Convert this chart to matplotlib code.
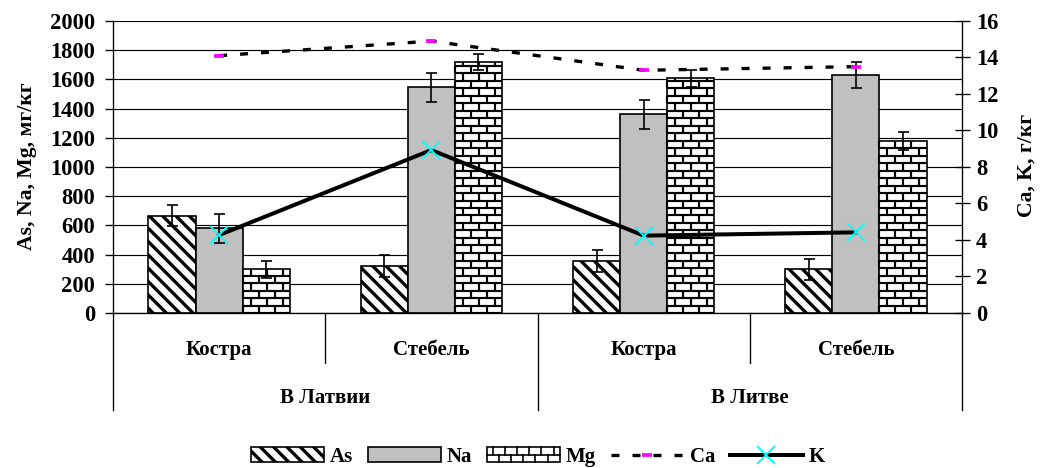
import matplotlib
matplotlib.use("Agg")
import matplotlib.pyplot as plt
import numpy as np
from matplotlib.patches import Rectangle
from matplotlib.lines import Line2D
from matplotlib.collections import LineCollection
from matplotlib.transforms import IdentityTransform, blended_transform_factory
from matplotlib.legend_handler import HandlerBase

plt.rcParams['font.family'] = ['Liberation Serif', 'DejaVu Serif']
plt.rcParams['font.weight'] = 'bold'
plt.rcParams['hatch.linewidth'] = 2.0

# data
sub_labels = ['Костра', 'Стебель', 'Костра', 'Стебель']
group_labels = ['В Латвии', 'В Литве']
as_vals = [665, 322, 357, 298]
as_err = [72, 75, 74, 72]
na_vals = [580, 1546, 1361, 1632]
na_err = [98, 100, 100, 90]
mg_vals = [298, 1720, 1607, 1178]
mg_err = [58, 55, 56, 62]
ca_vals = [14.1, 14.9, 13.3, 13.5]
k_vals = [4.27, 8.93, 4.24, 4.42]

DPI = 120
BS = chr(92)  # backslash for hatch
fig = plt.figure(figsize=(1040 / DPI, 468 / DPI), dpi=DPI)
ax = fig.add_axes([113 / 1040, 1 - 313 / 468, 849 / 1040, 292 / 468])
ax2 = ax.twinx()

x = np.arange(len(sub_labels))
w = 0.222
ekw = dict(ecolor='black', elinewidth=1.0, capsize=3.3, capthick=1.0)

b_as = ax.bar(x - w, as_vals, w, yerr=as_err, color='white', edgecolor='black',
              linewidth=1.0, hatch=BS * 3, error_kw=ekw, zorder=2)
b_na = ax.bar(x, na_vals, w, yerr=na_err, color='#c0c0c0', edgecolor='black',
              linewidth=1.0, error_kw=ekw, zorder=2)
b_mg = ax.bar(x + w, mg_vals, w, yerr=mg_err, color='white', edgecolor='black',
              linewidth=1.0, error_kw=ekw, zorder=2)

ax.set_xlim(-0.5, len(sub_labels) - 0.5)
ax.set_ylim(0, 2000)
ax.set_yticks(np.arange(0, 2001, 200))
ax.yaxis.grid(True, color='black', linewidth=0.7)
ax.set_axisbelow(True)
ax.set_xticks([])
ax.tick_params(axis='y', direction='out', length=4.8, width=0.8, labelsize=13.5, pad=6)
ax.spines['top'].set_visible(False)
ax.spines['right'].set_visible(False)
ax.set_ylabel('As, Na, Mg, мг/кг', fontsize=13, fontweight='bold')
ax.yaxis.set_label_coords(-0.0895, 0.503)

# brick texture for Mg bars
row_h, brick_w = 7.5, 16.0
for bar in b_mg:
    (x0, y0), (x1, y1) = ax.transData.transform([(bar.get_x(), 0),
                                                  (bar.get_x() + bar.get_width(), bar.get_height())])
    segs = []
    yy = y0
    row = 0
    while yy < y1:
        segs.append([(x0, yy), (x1, yy)])
        off = 0 if row % 2 == 0 else brick_w / 2
        xx = x0 + off
        while xx < x1:
            segs.append([(xx, yy), (xx, min(yy + row_h, y1))])
            xx += brick_w
        yy += row_h
        row += 1
    lc = LineCollection(segs, colors='black', linewidths=1.3, transform=IdentityTransform(), zorder=2.5)
    lc.set_clip_path(bar)
    ax.add_collection(lc)

l_ca, = ax2.plot(x, ca_vals, color='black', linewidth=2.0, linestyle=(0, (2.4, 3.9)),
                 marker='_', markersize=6, markeredgewidth=2.2, markeredgecolor='magenta', zorder=3)
l_k, = ax2.plot(x, k_vals, color='black', linewidth=2.4, marker='x', markersize=11,
                markeredgewidth=1.1, markeredgecolor='cyan', zorder=3)
ax2.set_ylim(0, 16)
ax2.set_yticks(np.arange(0, 17, 2))
ax2.tick_params(axis='y', direction='inout', length=9, width=0.8, labelsize=13.5, pad=4)
ax2.spines['top'].set_visible(False)
ax2.spines['left'].set_visible(False)
ax2.spines['bottom'].set_visible(False)
ax2.set_ylabel('Ca, K, г/кг', fontsize=13, fontweight='bold')
ax2.yaxis.set_label_coords(1.064, 0.504)

# two-level category axis
tr = blended_transform_factory(ax.transData, ax.transAxes)
for xi, lab in zip(x, sub_labels):
    ax.text(xi, -0.127, lab, transform=tr, ha='center', va='center', fontsize=12.5, fontweight='bold')
for gi, lab in enumerate(group_labels):
    ax.text(2 * gi + 0.5, -0.291, lab, transform=tr, ha='center', va='center', fontsize=12.5,
            fontweight='bold')
for xb in [-0.5, 1.5, 3.5]:
    ax.plot([xb, xb], [0, -0.332], transform=tr, color='black', linewidth=0.8, clip_on=False)
for xb in [0.5, 2.5]:
    ax.plot([xb, xb], [0, -0.171], transform=tr, color='black', linewidth=0.8, clip_on=False)


class BrickHandler(HandlerBase):
    def create_artists(self, legend, orig_handle, xdescent, ydescent, width, height, fontsize, trans):
        x0, y0 = -xdescent, -ydescent
        arts = [Rectangle((x0, y0), width, height, facecolor='white', edgecolor='black',
                          linewidth=1.0, transform=trans)]
        arts.append(Line2D([x0, x0 + width], [y0 + height / 2] * 2, color='black', linewidth=1.0,
                           transform=trans))
        n = 6
        for i in range(n):
            xa = x0 + width * (i + 0.5) / n
            arts.append(Line2D([xa, xa], [y0 + height / 2, y0 + height], color='black',
                               linewidth=1.0, transform=trans))
            xb = x0 + width * (i + 1) / n
            if i < n - 1:
                arts.append(Line2D([xb, xb], [y0, y0 + height / 2], color='black', linewidth=1.0,
                                   transform=trans))
        return arts


mg_handle = Rectangle((0, 0), 1, 1)
fig.legend([b_as[0], b_na[0], mg_handle, l_ca, l_k], ['As', 'Na', 'Mg', 'Ca', 'K'],
           handler_map={mg_handle: BrickHandler()},
           loc='center', bbox_to_anchor=(538 / 1040, 1 - 457 / 468), ncol=5, frameon=False,
           fontsize=12.5, handlelength=3.5, handleheight=0.7, handletextpad=0.3,
           columnspacing=0.7, borderpad=0)

fig.savefig('out.png', dpi=DPI)
